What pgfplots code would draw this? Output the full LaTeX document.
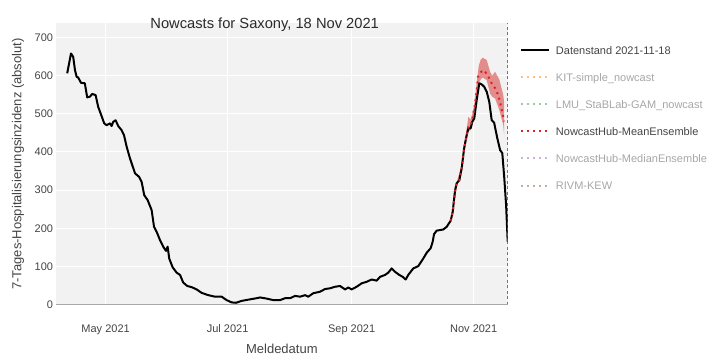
\documentclass[border=0pt]{standalone}
\usepackage{pgfplots}
\pgfplotsset{compat=1.18}
\usepackage{pgfplotstable}
\usepgfplotslibrary{fillbetween}
\usepackage{fontspec}
\setmainfont{Liberation Sans}

\definecolor{panelbg}{HTML}{F2F2F2}
\definecolor{ticktext}{HTML}{444444}
\definecolor{titletext}{HTML}{2A2A2A}
\definecolor{fadedtext}{HTML}{A6A6A6}
\definecolor{zeroline}{HTML}{A8A8A8}
\definecolor{nowline}{HTML}{777777}
\definecolor{meanred}{HTML}{E02025}
\definecolor{bandred}{HTML}{D62728}
\definecolor{kitorange}{HTML}{FDBF86}
\definecolor{lmugreen}{HTML}{95CF95}
\definecolor{medpurple}{HTML}{C9B3DE}
\definecolor{rivmbrown}{HTML}{C5AAA5}

% x = day of year 2021 (0 = 1 Jan), y = 7-day hospitalisation count
\pgfplotstableread{
d v
100.8 606
102.7 658
103.8 649
104.7 614
105.5 597
106.3 595
107.7 581
109.6 580
110.8 543
112.2 545
113.3 552
115.0 549
116.3 518
117.5 501
119.3 475
120.5 470
122.2 475
123.0 468
123.8 479
125.0 483
126.3 468
128.0 457
129.2 444
130.5 414
132.2 383
134.7 344
136.7 335
138.0 322
139.3 287
141.0 274
143.0 248
144.2 204
145.5 191
147.2 169
148.8 152
150.2 141
151.0 152
151.8 121
153.5 98
155.5 84
157.2 78
158.8 58
160.8 49
163.0 46
165.5 40
168.0 31
171.3 25
174.7 21
178.0 21
180.5 12
183.0 6
185.2 5
188.0 10
192.2 14
195.5 17
197.2 19
200.5 16
203.8 12
207.2 12
209.7 17
212.2 17
214.7 23
217.2 21
219.7 25
221.3 21
223.8 30
227.2 34
229.7 41
232.2 43
234.7 47
237.2 49
239.7 40
241.3 45
243.0 40
245.5 47
248.0 56
250.5 60
253.0 66
255.5 63
257.2 73
259.7 78
261.3 84
263.0 95
264.7 86
266.8 78
268.5 73
270.0 66
271.3 78
273.8 95
276.3 101
278.8 121
280.5 136
282.5 148
283.5 165
284.2 185
285.5 194
288.8 197
290.5 204
292.5 220
293.5 243
294.7 300
295.5 318
296.8 326
298.0 357
299.2 409
300.5 444
301.3 462
302.5 462
303.3 479
304.3 488
305.5 536
306.8 580
308.0 577
309.2 571
310.5 558
311.8 531
313.0 483
314.2 477
315.8 436
317.2 405
318.3 397
319.3 331
320.2 261
321.0 165
}\datenstand

% NowcastHub-MeanEnsemble: point nowcast
\pgfplotstableread{
d v
292.5 220
293.5 243
294.7 300
295.5 318
296.8 326
298.0 357
299.2 409
300.5 444
301.3 465
302.5 468
303.3 485
304.0 505
304.7 527
305.5 560
306.2 597
307.3 608
308.8 614
310.0 608
311.8 593
313.0 580
314.7 567
316.3 549
318.0 512
319.2 480
}\meanens

% NowcastHub-MeanEnsemble: prediction interval
\pgfplotstableread{
d lo hi
292.5 218 224
296.0 318 330
298.0 350 365
299.2 400 418
300.5 435 460
301.3 452 492
302.5 458 485
303.3 475 500
304.3 495 525
305.5 540 580
306.5 580 625
307.5 590 642
308.5 595 647
310.5 588 641
312.2 553 610
313.2 545 600
314.7 540 610
316.8 510 590
318.8 470 549
319.2 444 530
}\meanband

\newcommand\ticksize{\fontsize{11}{13}\selectfont}

\begin{document}
\begin{tikzpicture}
\begin{axis}[
  at={(56pt,51.3pt)}, anchor=south west,
  scale only axis, width=451.7pt, height=281.4pt,
  xmin=95.2, xmax=321, ymin=0, ymax=737,
  axis background/.style={fill=panelbg},
  axis line style={draw=none},
  major tick length=0pt,
  xtick={120,181,243,304},
  xticklabels={May 2021, Jul 2021, Sep 2021, Nov 2021},
  ytick={0,100,...,700},
  extra y ticks={0}, extra y tick labels={},
  extra y tick style={major grid style={draw=zeroline, line width=1.6pt}},
  extra x ticks={321}, extra x tick labels={},
  extra x tick style={major grid style={draw=nowline, line width=0.8pt, dash pattern=on 3pt off 2.5pt}},
  grid=major,
  major grid style={draw=white, line width=1pt},
  /pgf/number format/assume math mode=true,
  xticklabel style={font=\ticksize, text=ticktext, anchor=base, inner sep=0pt, yshift=-27.8pt},
  yticklabel style={font=\ticksize, text=ticktext, anchor=east, inner sep=0pt, xshift=-2.7pt},
  xlabel={Meldedatum},
  xlabel style={at={(axis description cs:0.5,-0.158)}, anchor=center, inner sep=0pt,
    font=\fontsize{13}{15}\selectfont, text=ticktext},
  ylabel={7-Tages-Hospitalisierungsinzidenz (absolut)},
  ylabel style={at={(axis description cs:-0.0841,0.5)}, anchor=center, inner sep=0pt,
    font=\fontsize{13}{15}\selectfont, text=ticktext},
  title={Nowcasts for Saxony, 18 Nov 2021},
  title style={at={(axis description cs:0.462,0.9737)}, anchor=center, inner sep=0pt,
    font=\fontsize{14.7}{17}\selectfont, text=titletext},
  legend cell align=left,
  legend image code/.code={\draw[#1] (0pt,0pt) -- (27.6pt,0pt);},
  legend style={at={(axis description cs:1.028,0.9193)}, anchor=north west,
    draw=none, fill=none, inner sep=0pt, outer sep=0pt,
    font=\ticksize, text=ticktext,
    nodes={inner sep=0pt, text height=8pt, text depth=0pt},
    row sep=19.1pt, column sep=6pt},
]
% interval of the mean ensemble nowcast
\addplot[name path=bandhi, draw=none, forget plot] table[x=d, y=hi] {\meanband};
\addplot[name path=bandlo, draw=none, forget plot] table[x=d, y=lo] {\meanband};
\addplot[fill=bandred, fill opacity=0.5, draw=none, forget plot] fill between[of=bandhi and bandlo];

% reported data as of 18 Nov
\addplot[black, line width=2pt, line join=round, mark=none] table[x=d, y=v] {\datenstand};
\addlegendentry{Datenstand 2021-11-18}

\addlegendimage{kitorange, line width=2pt, dash pattern=on 2pt off 3.9pt}
\addlegendentry[text=fadedtext]{KIT-simple\_nowcast}
\addlegendimage{lmugreen, line width=2pt, dash pattern=on 2pt off 3.9pt}
\addlegendentry[text=fadedtext]{LMU\_StaBLab-GAM\_nowcast}

\addplot[meanred, line width=2pt, dash pattern=on 2pt off 3.9pt, mark=none] table[x=d, y=v] {\meanens};
\addlegendentry{NowcastHub-MeanEnsemble}

\addlegendimage{medpurple, line width=2pt, dash pattern=on 2pt off 3.9pt}
\addlegendentry[text=fadedtext]{NowcastHub-MedianEnsemble}
\addlegendimage{rivmbrown, line width=2pt, dash pattern=on 2pt off 3.9pt}
\addlegendentry[text=fadedtext]{RIVM-KEW}
\end{axis}
% fixed canvas of 710 x 356
\pgfresetboundingbox
\path[use as bounding box] (0pt,0pt) rectangle (710pt,356pt);
\end{tikzpicture}
\end{document}
